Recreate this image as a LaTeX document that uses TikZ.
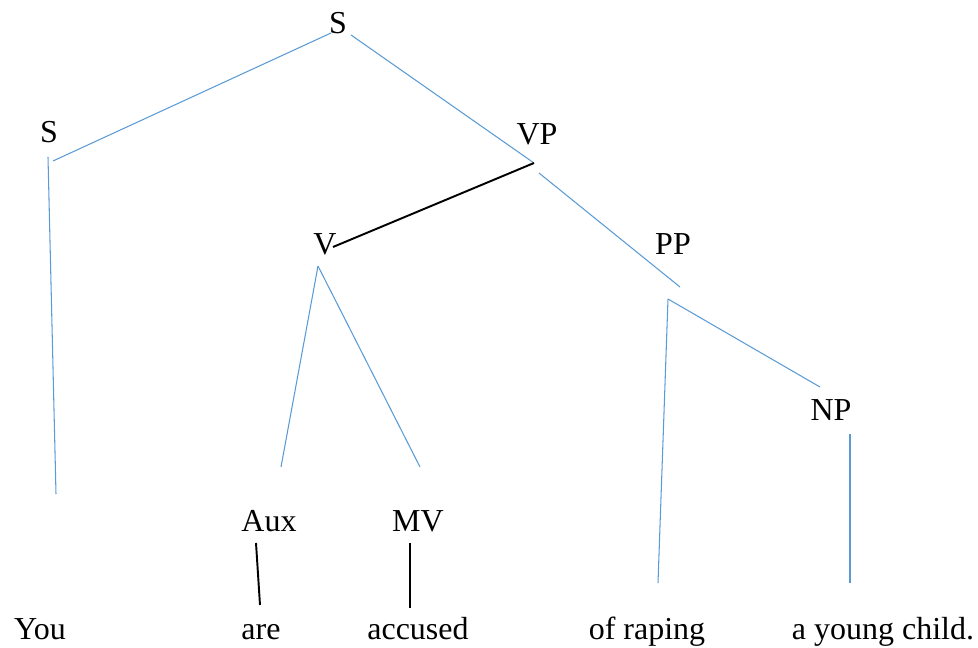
\documentclass[tikz,border=0pt]{standalone}
\usepackage{fontspec}
\setmainfont{Liberation Serif}
\definecolor{branchblue}{RGB}{91,155,213}
\tikzset{
  cat/.style={anchor=base,inner sep=0pt,font=\fontsize{18.2}{22}\selectfont},
  blueline/.style={draw=branchblue,line width=0.6pt},
  blackline/.style={draw=black,line width=1.1pt}
}
\begin{document}
\begin{tikzpicture}[x=0.02cm,y=-0.02cm]
  \useasboundingbox (0,0) rectangle (978,648);
  % labels
  \node[cat] (s) at (338,34) {S};
  \node[cat] (sl) at (49,143) {S};
  \node[cat] (vp) at (537,145) {VP};
  \node[cat] (v) at (325,255) {V};
  \node[cat] (pp) at (673,255) {PP};
  \node[cat] (np) at (831,421) {NP};
  \node[cat] (aux) at (269,532) {Aux};
  \node[cat] (mv) at (418,532) {MV};
  \node[cat] (you) at (40,640) {You};
  \node[cat] (are) at (261,640) {are};
  \node[cat] (accused) at (418,640) {accused};
  \node[cat] (of) at (647,640) {of raping};
  \node[cat] (child) at (883,640) {a young child.};
  % branch ends
  \coordinate (s-l) at (331,33);
  \coordinate (s-r) at (351,35);
  \coordinate (sl-in) at (53,161);
  \coordinate (sl-top) at (48,157);
  \coordinate (sl-bot) at (56,494);
  \coordinate (vp-in) at (534,163);
  \coordinate (vp-out) at (539,173);
  \coordinate (v-in) at (333,247);
  \coordinate (v-top) at (318,266);
  \coordinate (aux-in) at (281,467);
  \coordinate (mv-in) at (420,467);
  \coordinate (pp-in) at (680,287);
  \coordinate (pp-top) at (668,299);
  \coordinate (pp-bot) at (658,583);
  \coordinate (np-in) at (820,387);
  \coordinate (np-top) at (850,434);
  \coordinate (np-bot) at (850,583);
  \coordinate (aux-top) at (256,543);
  \coordinate (aux-bot) at (260,605);
  \coordinate (mv-top) at (410,543);
  \coordinate (mv-bot) at (410,608);
  \begin{scope}[blueline]
    \draw (s-l) to (sl-in);
    \draw (s-r) to (vp-in);
    \draw (sl-top) to (sl-bot);
    \draw (vp-out) to (pp-in);
    \draw (v-top) to (aux-in);
    \draw (v-top) to (mv-in);
    \draw (pp-top) to (pp-bot);
    \draw (pp-top) to (np-in);
    \draw (np-top) to (np-bot);
  \end{scope}
  \begin{scope}[blackline]
    \draw (vp-in) to (v-in);
    \draw (aux-top) to (aux-bot);
    \draw (mv-top) to (mv-bot);
  \end{scope}
\end{tikzpicture}
\end{document}
